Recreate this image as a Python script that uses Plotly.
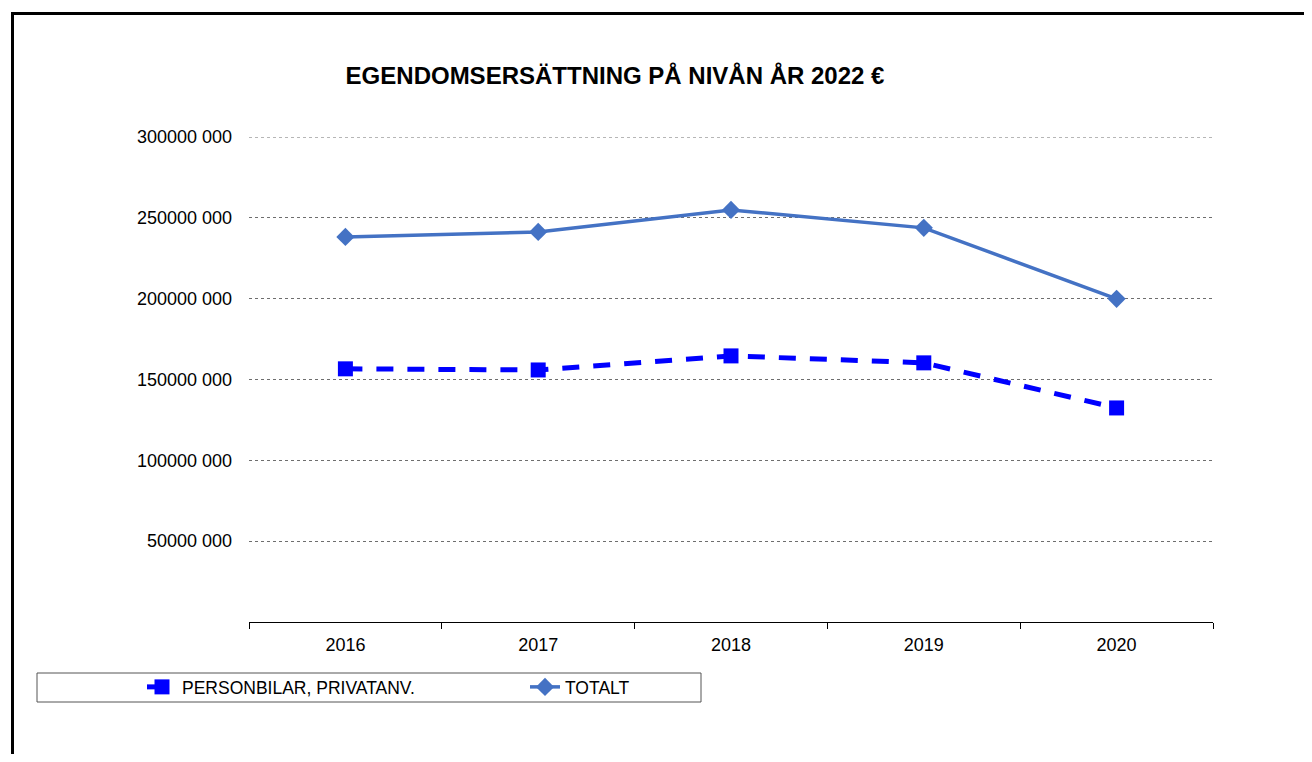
import plotly.graph_objects as go

years = ["2016", "2017", "2018", "2019", "2020"]
personbilar = [156.6e6, 155.9e6, 164.6e6, 160.3e6, 132.4e6]
totalt = [238.2e6, 241.3e6, 254.9e6, 243.8e6, 199.9e6]

y_ticks = [50e6, 100e6, 150e6, 200e6, 250e6, 300e6]
y_labels = ["50000 000", "100000 000", "150000 000", "200000 000", "250000 000", "300000 000"]

# the page body has an 8px margin, so work in screen pixels and shift
OFF = 8
W, H = 1312 - 2 * OFF, 762 - 2 * OFF
PL, PR, PT, PB = 249, 1213, 137, 622   # plot area on screen
L, R, T, B = PL - OFF, W - (PR - OFF), PT - OFF, H - (PB - OFF)
pw, ph = PR - PL, PB - PT


def px_x(x):
    return (x - PL) / pw


def px_y(y):
    return (PB - y) / ph


fig = go.Figure()

fig.add_trace(go.Scatter(
    x=years, y=personbilar, mode="lines+markers",
    name="PERSONBILAR, PRIVATANV.",
    line=dict(color="#0000FF", width=5, dash="17px,14px"),
    marker=dict(symbol="square", size=15, color="#0000FF"),
))
fig.add_trace(go.Scatter(
    x=years, y=totalt, mode="lines+markers",
    name="TOTALT",
    line=dict(color="#4472C4", width=3.5),
    marker=dict(symbol="diamond", size=14, color="#4472C4"),
))

# outer frame: only left and top edges are visible; keep it inside the svg
fig.add_shape(type="line", xref="paper", yref="paper",
              x0=px_x(12.5), x1=px_x(12.5), y0=px_y(12), y1=px_y(H + OFF),
              line=dict(color="black", width=3))
fig.add_shape(type="line", xref="paper", yref="paper",
              x0=px_x(11), x1=px_x(W + OFF), y0=px_y(13.5), y1=px_y(13.5),
              line=dict(color="black", width=3))
# top gridline sits on the range edge, so draw it as a shape
fig.add_shape(type="line", xref="paper", yref="y",
              x0=0, x1=1, y0=y_ticks[-1], y1=y_ticks[-1],
              line=dict(color="#6e6e6e", width=1, dash="dot"), layer="below")
# legend box
fig.add_shape(type="rect", xref="paper", yref="paper",
              x0=px_x(37), x1=px_x(701), y0=px_y(673), y1=px_y(702),
              line=dict(color="#555555", width=1), fillcolor="rgba(0,0,0,0)")

fig.update_layout(
    width=W, height=H,
    margin=dict(l=L, r=R, t=T, b=B),
    paper_bgcolor="white", plot_bgcolor="white",
    font=dict(family="Liberation Sans, Arial, sans-serif", size=18, color="black"),
    title=dict(text="<b>EGENDOMSERSÄTTNING PÅ NIVÅN ÅR 2022 €</b>",
               x=px_x(615), xanchor="center", xref="paper",
               y=1 - (76 - OFF) / H, yanchor="middle",
               font=dict(size=24, color="black")),
    showlegend=True,
    legend=dict(orientation="h", x=px_x(142), xanchor="left",
                y=px_y(687), yanchor="middle",
                font=dict(size=17.5), entrywidth=338, bgcolor="rgba(0,0,0,0)"),
)

fig.update_xaxes(
    type="category", range=[-0.5, 4.5],
    showline=True, linecolor="black", linewidth=1,
    ticks="outside", tickson="boundaries", ticklen=6, tickcolor="black",
    showgrid=False, ticklabelstandoff=6,
)
fig.update_yaxes(
    range=[0, 300e6], tickvals=y_ticks, ticktext=y_labels,
    showgrid=True, gridcolor="#6e6e6e", griddash="dot", gridwidth=1,
    zeroline=False, showline=False, ticks="", ticklabelstandoff=16,
)

fig.write_html("out.html")
